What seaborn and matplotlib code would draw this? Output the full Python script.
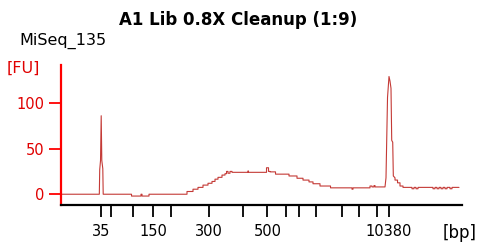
import matplotlib
matplotlib.use("Agg")
import matplotlib.pyplot as plt
import seaborn as sns
import pandas as pd

# Migration time (s) and fluorescence (FU)
time_s = [33.9, 43.33, 43.43, 43.63, 43.8, 43.95, 44.2, 44.3,
          51.38, 51.38, 53.75, 53.75, 54.0, 54.0, 55.75, 55.75,
          65.25, 65.25, 66.75, 66.75, 68.0, 68.0, 69.25, 69.25, 70.5, 70.5,
          71.5, 71.5, 72.25, 72.25, 73.0, 73.0, 74.0, 74.0, 74.75, 74.75,
          75.13, 75.13, 75.5, 75.5, 76.0, 76.0, 76.5, 76.5,
          80.5, 80.5, 80.6, 80.6,
          85.13, 85.13, 85.63, 85.63, 86.0, 86.0, 87.38, 87.38,
          90.75, 90.75, 92.75, 92.75, 94.25, 94.25, 95.75, 95.75,
          96.75, 96.75, 98.5, 98.5, 101.13, 101.13,
          106.5, 106.5, 106.75, 106.75, 111.0, 111.0, 111.5, 111.5,
          112.0, 112.0, 112.25, 112.25,
          114.75, 115.0, 115.38, 115.75, 116.0, 116.25, 116.43, 116.68, 116.83,
          117.25, 117.25, 117.88, 117.88, 118.5, 118.5, 119.25, 119.25,
          121.5, 121.5, 122.0, 122.0, 122.5, 122.5, 123.0, 123.0,
          126.75, 126.75, 127.25, 127.25, 127.75, 127.75, 128.25, 128.25,
          128.75, 128.75, 129.25, 129.25, 129.75, 129.75, 130.25, 130.25,
          131.0, 131.0, 131.5, 131.5, 133.25]
fu = [0, 0, 27, 37, 86, 37, 28, 0,
      0, -2, -2, 0, 0, -2, -2, 0,
      0, 3, 3, 5.5, 5.5, 7.5, 7.5, 10, 10, 12,
      12, 14, 14, 16.5, 16.5, 18.5, 18.5, 21, 21, 22.5,
      22.5, 25, 25, 23, 23, 25, 25, 24,
      24, 25.5, 25.5, 24,
      24, 29, 29, 25, 25, 24.5, 24.5, 22,
      22, 20, 20, 17.5, 17.5, 15.5, 15.5, 13.5,
      13.5, 11.5, 11.5, 9, 9, 7,
      7, 5.5, 5.5, 7, 7, 9, 9, 8,
      8, 9.5, 9.5, 8,
      8, 18, 106, 129, 124, 116, 59, 57, 20,
      18, 15.5, 15.5, 12.5, 12.5, 9, 9, 7.5,
      7.5, 6, 6, 7.5, 7.5, 6, 6, 7.5,
      7.5, 6, 6, 7.5, 7.5, 6, 6, 7.5,
      7.5, 6, 6, 7.5, 7.5, 6, 6, 7.5,
      7.5, 6, 6, 7.5, 7.5]

# Ladder peaks (bp) and their migration times
ladder_time = [43.75, 46.25, 51.83, 56.83, 61.33, 70.83, 79.33, 85.33,
               89.93, 93.33, 97.5, 103.93, 108.33, 112.68, 115.75]
ladder_bp = ["35", "", "", "150", "", "300", "", "500",
             "", "", "", "", "", "", "10380"]
y_ticks = [0, 50, 100]

title = "A1 Lib 0.8X Cleanup (1:9)"
sample = "MiSeq_135"

df = pd.DataFrame({"time": time_s, "fu": fu})

sns.set_style("white")
plt.rcParams["font.family"] = ["DejaVu Sans"]
plt.rcParams["text.color"] = "black"

fig = plt.figure(figsize=(4.79, 2.45), dpi=100)
ax = fig.add_axes([61 / 479, 1 - 205 / 245, (462 - 61) / 479, (205 - 65) / 245])

sns.lineplot(data=df, x="time", y="fu", ax=ax, sort=False, estimator=None,
             color="#c43a36", linewidth=0.8)

ax.set_xlim(33.75, 134.0)
ax.set_ylim(-11.8, 141.6)

ax.set_xticks(ladder_time)
ax.set_xticklabels(ladder_bp, fontsize=10.5, color="black")
ax.set_yticks(y_ticks)
ax.set_yticklabels([str(v) for v in y_ticks], fontsize=10.5, color="#e00000")
ax.tick_params(axis="x", length=8.5, width=1.3, color="black", pad=5.5, direction="out", bottom=True)
ax.tick_params(axis="y", length=8.5, width=1.3, color="#ff0000", pad=3.5, direction="out", left=True)

for s in ["top", "right"]:
    ax.spines[s].set_visible(False)
ax.spines["left"].set_color("#ff0000")
ax.spines["left"].set_linewidth(1.6)
ax.spines["bottom"].set_color("black")
ax.spines["bottom"].set_linewidth(1.6)
ax.set_xlabel("")
ax.set_ylabel("")
ax.grid(False)

fig.text(238 / 479, 1 - 25 / 245, title, ha="center", va="baseline",
         fontsize=12, fontweight="bold", color="black")
fig.text(19 / 479, 1 - 45 / 245, sample, ha="left", va="baseline", fontsize=11.5,
         color="black")
fig.text(7 / 479, 1 - 73 / 245, "[FU]", ha="left", va="baseline", fontsize=11.5,
         color="#e00000")
fig.text(443 / 479, 1 - 238 / 245, "[bp]", ha="left", va="baseline", fontsize=12,
         color="black")

fig.savefig("out.png", dpi=100)
